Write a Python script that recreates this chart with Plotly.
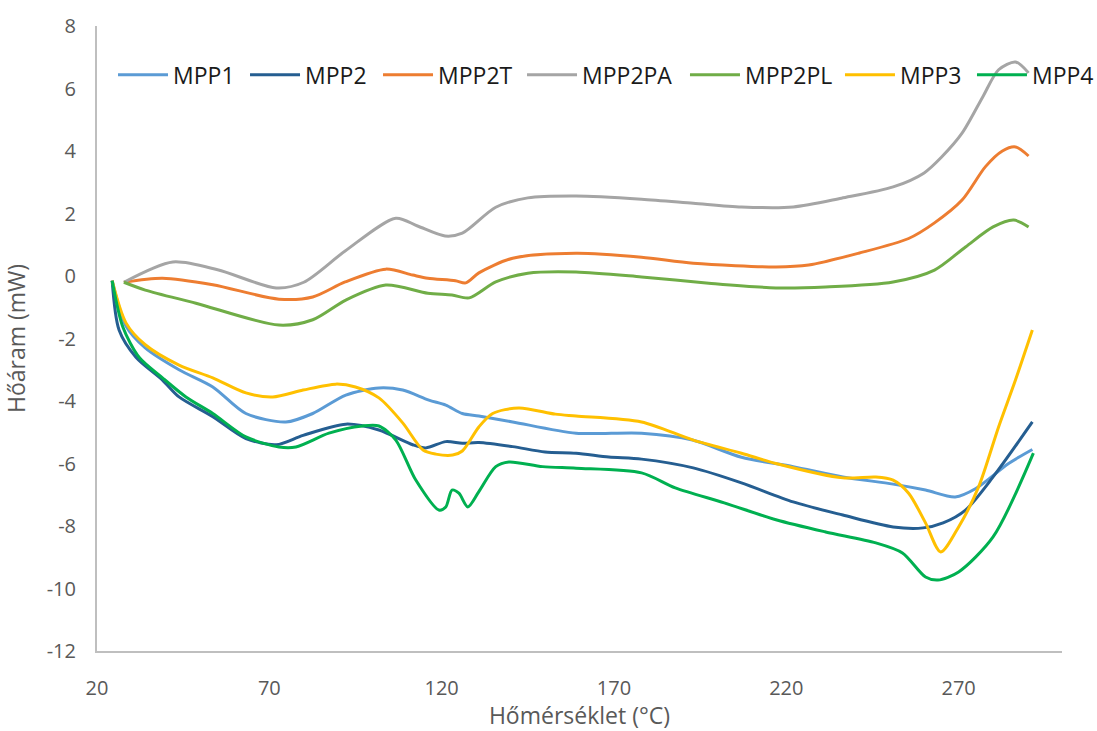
import plotly.graph_objects as go

# DSC heat-flow curves (temperature in °C, heat flow in mW)
t_mpp1 = [24.4, 28.4, 34, 43.8, 53.6, 63.2, 74.8, 82.6, 92.2, 101.8, 108.7, 116.3, 121.2, 126, 130.8,
          140.6, 159, 178, 192.8, 207, 222, 236.4, 251, 260.4, 269, 275, 284.5, 291.4]
v_mpp1 = [-0.15, -1.6, -2.3, -3.0, -3.55, -4.4, -4.67, -4.4, -3.81, -3.58, -3.65, -3.97, -4.13, -4.4, -4.48,
          -4.67, -5.03, -5.03, -5.25, -5.8, -6.1, -6.43, -6.66, -6.85, -7.07, -6.8, -6.0, -5.55]

t_mpp2 = [24.4, 26.4, 31.3, 39, 43.8, 53.6, 63.2, 72, 79.8, 92.2, 101.8, 111.6, 115.4, 121.2, 126, 130.8,
          140.6, 150, 159, 168.5, 178, 193, 207, 222, 236.4, 251, 259.7, 265.5, 272, 280, 291.4]
v_mpp2 = [-0.15, -1.73, -2.6, -3.33, -3.87, -4.5, -5.2, -5.4, -5.1, -4.74, -4.93, -5.4, -5.5, -5.3, -5.35, -5.33,
          -5.46, -5.63, -5.67, -5.79, -5.86, -6.14, -6.62, -7.23, -7.65, -8.03, -8.06, -7.9, -7.49, -6.43, -4.67]

t_mpp2t = [27.8, 39, 53.6, 72.8, 82.6, 92, 103.8, 111.6, 116, 124, 127, 130.8, 140.6, 159, 178, 193, 217,
           226.5, 241, 255.5, 263, 271, 277.8, 282.7, 286.5, 290.3]
v_mpp2t = [-0.2, -0.07, -0.28, -0.74, -0.67, -0.19, 0.22, 0.03, -0.07, -0.15, -0.22, 0.1, 0.57, 0.73, 0.6, 0.41, 0.29,
           0.35, 0.73, 1.2, 1.7, 2.43, 3.5, 4.0, 4.13, 3.84]

t_mpp2pa = [27.8, 42, 55, 72, 80, 92, 106.7, 113, 121, 126, 135.7, 145, 159, 178, 193, 207, 222, 236, 251,
            260, 265, 271, 277, 281.6, 286.5, 290.3]
v_mpp2pa = [-0.2, 0.45, 0.2, -0.38, -0.2, 0.8, 1.85, 1.6, 1.28, 1.37, 2.2, 2.5, 2.56, 2.46, 2.33, 2.21, 2.21, 2.49, 2.85,
            3.3, 3.8, 4.57, 5.73, 6.6, 6.85, 6.5]

t_mpp2pl = [27.8, 34, 48.7, 72.8, 82.6, 92.2, 103.8, 116, 123, 128, 135.7, 145, 159, 178, 197.5, 217, 231.4,
            251, 263, 272, 280, 286, 290.3]
v_mpp2pl = [-0.2, -0.45, -0.87, -1.57, -1.4, -0.77, -0.29, -0.55, -0.61, -0.7, -0.19, 0.09, 0.13, -0.03, -0.23, -0.38, -0.35,
            -0.19, 0.19, 0.93, 1.57, 1.79, 1.57]

t_mpp3 = [24.4, 28.4, 34, 43.8, 53.6, 63.2, 71, 79.8, 89.3, 95, 101.8, 108.7, 114.6, 118.3, 123.2, 126, 130.8,
          134.8, 142.4, 153, 159, 178, 193, 207, 217, 236.4, 246, 251, 255.5, 260.4, 264.8, 270, 275.8, 281.6,
          286.5, 291.4]
v_mpp3 = [-0.15, -1.5, -2.2, -2.85, -3.26, -3.74, -3.87, -3.65, -3.46, -3.55, -3.9, -4.7, -5.57, -5.7, -5.73, -5.6, -4.83,
          -4.4, -4.22, -4.42, -4.48, -4.67, -5.25, -5.67, -6.0, -6.46, -6.43, -6.53, -6.95, -7.9, -8.83, -8.03, -6.75, -4.83,
          -3.33, -1.73]

t_mpp4 = [24.4, 27.5, 32.2, 39, 45.8, 53.6, 63.2, 72.8, 77.7, 87.3, 97, 101.8, 106.7, 112.5, 119.2, 121.2, 123,
          125, 127.6, 130.8, 135.7, 139.5, 149.3, 159, 178, 187.8, 202, 217, 231.4, 246, 253.7, 260.4, 264, 270,
          280, 291.7]
v_mpp4 = [-0.15, -1.63, -2.6, -3.26, -3.87, -4.4, -5.15, -5.47, -5.47, -5.03, -4.8, -4.8, -5.25, -6.53, -7.49, -7.39, -6.85,
          -6.95, -7.39, -6.9, -6.1, -5.95, -6.1, -6.15, -6.3, -6.78, -7.26, -7.8, -8.19, -8.54, -8.86, -9.63, -9.73, -9.47,
          -8.35, -5.67]

x_ticks = [20, 70, 120, 170, 220, 270]
y_ticks = [8, 6, 4, 2, 0, -2, -4, -6, -8, -10, -12]

series = [
    ("MPP1", t_mpp1, v_mpp1),
    ("MPP2", t_mpp2, v_mpp2),
    ("MPP2T", t_mpp2t, v_mpp2t),
    ("MPP2PA", t_mpp2pa, v_mpp2pa),
    ("MPP2PL", t_mpp2pl, v_mpp2pl),
    ("MPP3", t_mpp3, v_mpp3),
    ("MPP4", t_mpp4, v_mpp4),
]

# line colour, legend box and legend entry width (px) per series;
# the single row of entries is split over two legend boxes
style = {
    "MPP1": ("#5B9BD5", "legend", 67),
    "MPP2": ("#255E91", "legend", 68),
    "MPP2T": ("#ED7D31", "legend", 79),
    "MPP2PA": ("#A5A5A5", "legend", 98),
    "MPP2PL": ("#70AD47", "legend2", 90),
    "MPP3": ("#FFC000", "legend2", 67),
    "MPP4": ("#00B050", "legend2", 66),
}

fig = go.Figure()
for name, t, v in series:
    color, legend_id, lw = style[name]
    fig.add_trace(go.Scatter(
        x=t, y=v, name=name, mode="lines", legend=legend_id, legendwidth=lw,
        line=dict(color=color, width=3, shape="spline", smoothing=0.8),
    ))

font_family = "Open Sans, Noto Sans, sans-serif"
axis_grey = "#595959"

legend_common = dict(
    orientation="h", y=0.922, xanchor="left", yanchor="middle",
    font=dict(size=23, color="#1a1a1a", family=font_family),
    bgcolor="rgba(0,0,0,0)", tracegroupgap=0, itemwidth=50,
)

fig.update_layout(
    width=1097, height=731,
    margin=dict(l=97, r=35, t=26, b=80, autoexpand=False),
    paper_bgcolor="white", plot_bgcolor="white",
    font=dict(family=font_family, color=axis_grey),
    showlegend=True,
    legend=dict(x=0.0166, **legend_common),
    legend2=dict(x=0.6093, **legend_common),
    xaxis=dict(
        range=[20, 300], tickvals=x_ticks, ticktext=[str(v) for v in x_ticks],
        showgrid=False, zeroline=False, showline=True, linecolor="#BFBFBF", linewidth=2,
        ticks="", tickfont=dict(size=20, color=axis_grey), ticklabelstandoff=18,
        automargin=False,
        title=dict(text="Hőmérséklet (°C)", font=dict(size=23, color=axis_grey)),
    ),
    yaxis=dict(
        range=[-12, 8], tickvals=y_ticks, ticktext=[str(v) for v in y_ticks],
        showgrid=False, zeroline=False, showline=True, linecolor="#BFBFBF", linewidth=2,
        ticks="", tickfont=dict(size=20, color=axis_grey), ticklabelstandoff=15,
        automargin=False,
        title=dict(text="Hőáram (mW)", font=dict(size=23, color=axis_grey)),
    ),
)

fig.write_html("out.html")
